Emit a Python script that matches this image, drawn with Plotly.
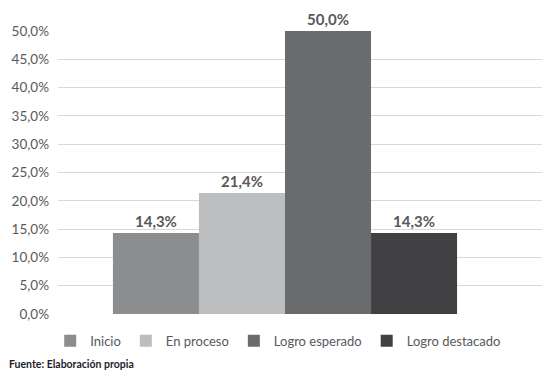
import plotly.graph_objects as go

categories = ["Inicio", "En proceso", "Logro esperado", "Logro destacado"]
values = [14.3, 21.4, 50.0, 14.3]
colors = ["#8c8d8f", "#bcbdbf", "#6a6b6d", "#414143"]
tick_vals = [0, 5, 10, 15, 20, 25, 30, 35, 40, 45, 50]
tick_text = ["0,0%", "5,0%", "10,0%", "15,0%", "20,0%", "25,0%", "30,0%", "35,0%", "40,0%", "45,0%", "50,0%"]
source = "Fuente: Elaboración propia"

FONT = "Lato"

fig = go.Figure()
for name, v, c in zip(categories, values, colors):
    fig.add_trace(go.Bar(
        x=[""], y=[v], name=name, marker=dict(color=c, line=dict(width=0)),
        text=[v], texttemplate="%{y:.1f}%", textposition="outside",
        textfont=dict(family=FONT, size=15, color="#59595b", weight="bold"),
        cliponaxis=False,
    ))

fig.update_layout(
    width=552, height=381,
    margin=dict(l=58, r=10, t=31, b=67),
    barmode="group", bargap=0.289, bargroupgap=0,
    separators=",.",
    plot_bgcolor="white", paper_bgcolor="white",
    font=dict(family=FONT, size=13, color="#58595b"),
    showlegend=True,
    legend=dict(orientation="h", x=0.455, xanchor="center", y=-0.095, yanchor="middle",
                font=dict(family=FONT, size=13, color="#58595b"), itemwidth=30, tracegroupgap=0),
    xaxis=dict(range=[-0.469, 0.531], showticklabels=False, showgrid=False, zeroline=False,
               showline=False, fixedrange=True),
    yaxis=dict(range=[0, 50], tickvals=tick_vals, ticktext=tick_text, showgrid=True,
               gridcolor="#d9d9d9", gridwidth=1, zeroline=False, showline=False,
               ticklabelstandoff=8, tickfont=dict(family=FONT, size=13.5, color="#58595b")),
    annotations=[dict(text=source, xref="paper", yref="paper", x=-0.105, y=-0.177,
                      xanchor="left", yanchor="middle", showarrow=False,
                      font=dict(family=FONT, size=10.5, color="#1e1e2a", weight="bold"))],
)
fig.write_html("out.html", config={"displayModeBar": False},
               post_script="document.body.style.margin='0';document.body.style.padding='0';")
